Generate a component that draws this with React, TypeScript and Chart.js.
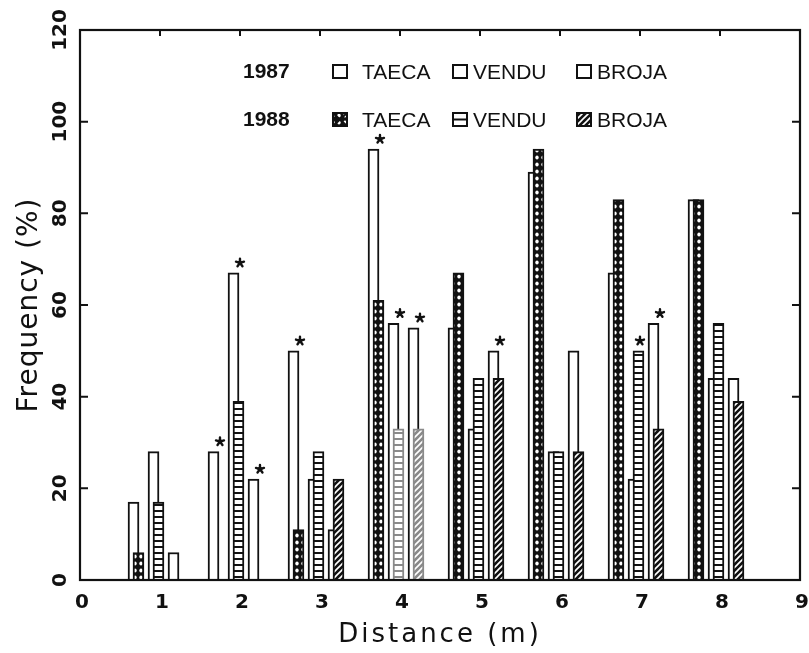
import { useEffect, useRef } from 'react';
import { Chart, registerables } from 'chart.js';

Chart.register(...registerables);

// ---------- data ----------
const distances = [1, 2, 3, 4, 5, 6, 7, 8];
const taeca1987 = [17, 28, 50, 94, 55, 89, 67, 83];
const taeca1988: (number | null)[] = [6, null, 11, 61, 67, 94, 83, 83];
const vendu1987 = [28, 67, 22, 56, 33, 28, 22, 44];
const vendu1988 = [17, 39, 28, 33, 44, 28, 50, 56];
const broja1987 = [6, 22, 11, 55, 50, 50, 56, 44];
const broja1988: (number | null)[] = [null, null, 22, 33, 44, 28, 33, 39];
// significance marks (*) per site pair
const sigTaeca = [false, true, true, true, false, false, false, false];
const sigVendu = [false, true, false, true, false, false, true, false];
const sigBroja = [false, true, false, true, true, false, true, false];
const yTickValues = [0, 20, 40, 60, 80, 100, 120];
const xMin = 0;
const xMax = 9;
const sites = ['TAECA', 'VENDU', 'BROJA'];
const years = ['1987', '1988'];
const xTitle = 'Distance (m)';
const yTitle = 'Frequency (%)';

// ---------- layout / style ----------
const INK = '#111';
const FADED = '#8a8a8a';
const FADED_DISTANCE = 4;
const GROUP_SHIFT = -0.05;
const PAIR_OFFSETS = [-0.25, 0, 0.25];
const YEAR_OFFSET = 0.031;
const BAR_W = 11;

function tile(w: number, h: number, draw: (c: CanvasRenderingContext2D) => void) {
  const cv = document.createElement('canvas');
  cv.width = w;
  cv.height = h;
  const c = cv.getContext('2d')!;
  draw(c);
  return cv;
}

function makePatterns(ctx: CanvasRenderingContext2D, ink: string) {
  const dots = tile(6, 7, (c) => {
    c.fillStyle = ink;
    c.fillRect(0, 0, 6, 7);
    c.fillStyle = '#fff';
    c.beginPath();
    c.ellipse(3, 3.5, 1.7, 2.1, 0, 0, Math.PI * 2);
    c.fill();
  });
  const ladder = tile(6, 6, (c) => {
    c.fillStyle = '#fff';
    c.fillRect(0, 0, 6, 6);
    c.fillStyle = ink;
    c.fillRect(0, 0, 6, 2);
  });
  const diag = tile(6, 6, (c) => {
    c.fillStyle = ink;
    c.fillRect(0, 0, 6, 6);
    c.strokeStyle = '#fff';
    c.lineWidth = 1.6;
    c.beginPath();
    c.moveTo(-1, 7);
    c.lineTo(7, -1);
    c.moveTo(-1, 1);
    c.lineTo(1, -1);
    c.moveTo(5, 7);
    c.lineTo(7, 5);
    c.stroke();
  });
  return {
    dots: ctx.createPattern(dots, 'repeat')!,
    ladder: ctx.createPattern(ladder, 'repeat')!,
    diag: ctx.createPattern(diag, 'repeat')!,
  };
}

function xPos(i: number, pair: number, year: number) {
  return distances[i] + GROUP_SHIFT + PAIR_OFFSETS[pair] + (year === 0 ? -YEAR_OFFSET : YEAR_OFFSET);
}

function points(values: (number | null)[], pair: number, year: number) {
  return values.map((v, i) => ({ x: xPos(i, pair, year), y: v }));
}

function drawStar(ctx: CanvasRenderingContext2D, x: number, y: number) {
  ctx.save();
  ctx.strokeStyle = INK;
  ctx.lineWidth = 2.4;
  ctx.lineCap = 'round';
  ctx.beginPath();
  for (let k = 0; k < 5; k++) {
    const a = -Math.PI / 2 + (k * 2 * Math.PI) / 5;
    ctx.moveTo(x, y);
    ctx.lineTo(x + Math.cos(a) * 4.2, y + Math.sin(a) * 4.2);
  }
  ctx.stroke();
  ctx.fillStyle = INK;
  ctx.beginPath();
  ctx.arc(x, y, 2.4, 0, Math.PI * 2);
  ctx.fill();
  ctx.restore();
}

export default function App() {
  const canvasRef = useRef<HTMLCanvasElement | null>(null);

  useEffect(() => {
    const canvas = canvasRef.current!;
    const ctx = canvas.getContext('2d')!;
    const pBlack = makePatterns(ctx, INK);
    const pGray = makePatterns(ctx, FADED);

    const pick = (kind: 'dots' | 'ladder' | 'diag') => (c: any) =>
      distances[c.dataIndex] === FADED_DISTANCE && kind !== 'dots' ? pGray[kind] : pBlack[kind];
    const pickBorder = (kind: string) => (c: any) =>
      distances[c.dataIndex] === FADED_DISTANCE && kind !== 'dots' ? FADED : INK;

    const white = (label: string, values: (number | null)[], pair: number) => ({
      label,
      data: points(values, pair, 0),
      backgroundColor: '#fff',
      borderColor: INK,
      borderWidth: 2,
      barThickness: BAR_W,
      grouped: false,
      order: 1,
    });
    const patterned = (
      label: string,
      values: (number | null)[],
      pair: number,
      kind: 'dots' | 'ladder' | 'diag'
    ) => ({
      label,
      data: points(values, pair, 1),
      backgroundColor: pick(kind),
      borderColor: pickBorder(kind),
      borderWidth: 2,
      barThickness: BAR_W,
      grouped: false,
      order: 0,
    });

    const sigs = [sigTaeca, sigVendu, sigBroja];
    const pairs87 = [taeca1987, vendu1987, broja1987];
    const pairs88 = [taeca1988, vendu1988, broja1988];

    const decor = {
      id: 'decor',
      afterDatasetsDraw(chart: any) {
        const c: CanvasRenderingContext2D = chart.ctx;
        const a = chart.chartArea;
        const xs = chart.scales.x;
        const ys = chart.scales.y;

        // significance stars
        sigs.forEach((sig, p) => {
          sig.forEach((on, i) => {
            if (!on) return;
            const top = Math.max(pairs87[p][i] ?? 0, pairs88[p][i] ?? 0);
            const px = xs.getPixelForValue(xPos(i, p, 1)) + 1.5;
            const py = ys.getPixelForValue(top) - 10;
            drawStar(c, px, py);
          });
        });

        // frame
        c.save();
        c.strokeStyle = INK;
        c.lineWidth = 2.2;
        c.strokeRect(a.left, a.top, a.right - a.left, a.bottom - a.top);
        c.lineWidth = 2;
        c.beginPath();
        ys.ticks.forEach((t: any) => {
          const py = ys.getPixelForValue(t.value);
          c.moveTo(a.left, py);
          c.lineTo(a.left + 8, py);
          c.moveTo(a.right, py);
          c.lineTo(a.right - 8, py);
        });
        xs.ticks.forEach((t: any) => {
          const px = xs.getPixelForValue(t.value);
          c.moveTo(px, a.top);
          c.lineTo(px, a.top + 6);
        });
        c.stroke();

        // tick labels
        c.fillStyle = INK;
        c.font = 'bold 20px "DejaVu Sans"';
        c.textAlign = 'center';
        c.textBaseline = 'middle';
        ys.ticks.forEach((t: any) => {
          const py = ys.getPixelForValue(t.value);
          c.save();
          c.translate(a.left - 19, py);
          c.rotate(-Math.PI / 2);
          c.fillText(String(t.value), 0, 0);
          c.restore();
        });
        xs.ticks.forEach((t: any) => {
          const px = xs.getPixelForValue(t.value);
          c.fillText(String(t.value), px + 2, a.bottom + 23);
        });

        // axis titles
        c.font = '28px "DejaVu Sans"';
        (c as any).letterSpacing = '1px';
        c.save();
        c.translate(a.left - 50, (a.top + a.bottom) / 2);
        c.rotate(-Math.PI / 2);
        c.fillText(yTitle, 0, 0);
        c.restore();
        c.font = '26px "DejaVu Sans"';
        (c as any).letterSpacing = '3px';
        c.fillText(xTitle, (a.left + a.right) / 2, a.bottom + 55);
        (c as any).letterSpacing = '0px';

        // legend
        const rowsY = [a.top + 42, a.top + 90];
        const boxX = [a.left + 253, a.left + 373, a.left + 497];
        const labelX = [a.left + 282, a.left + 393, a.left + 517];
        rowsY.forEach((ry, r) => {
          c.font = 'bold 21px "Liberation Sans"';
          c.textAlign = 'left';
          c.fillStyle = INK;
          c.fillText(years[r], a.left + 163, ry);
          sites.forEach((s, k) => {
            const bx = boxX[k];
            const by = ry - 7;
            c.lineWidth = 2;
            c.strokeStyle = INK;
            if (r === 1) {
              if (k === 0) {
                c.fillStyle = pBlack.dots;
                c.fillRect(bx, by, 14, 13);
                c.beginPath();
                c.moveTo(bx, by);
                c.lineTo(bx + 14, by + 13);
                c.moveTo(bx + 14, by);
                c.lineTo(bx, by + 13);
                c.stroke();
              } else if (k === 1) {
                c.fillStyle = '#fff';
                c.fillRect(bx, by, 14, 13);
                c.beginPath();
                c.moveTo(bx, by + 6.5);
                c.lineTo(bx + 14, by + 6.5);
                c.stroke();
              } else {
                c.fillStyle = pBlack.diag;
                c.fillRect(bx, by, 14, 13);
              }
            }
            c.strokeRect(bx, by, 14, 13);
            c.fillStyle = INK;
            c.font = '21px "Liberation Sans"';
            c.fillText(s, labelX[k], ry + 1);
          });
        });
        c.restore();
      },
    };

    const chart = new Chart(canvas, {
      type: 'bar',
      data: {
        datasets: [
          white('1987 TAECA', taeca1987, 0),
          patterned('1988 TAECA', taeca1988, 0, 'dots'),
          white('1987 VENDU', vendu1987, 1),
          patterned('1988 VENDU', vendu1988, 1, 'ladder'),
          white('1987 BROJA', broja1987, 2),
          patterned('1988 BROJA', broja1988, 2, 'diag'),
        ] as any,
      },
      options: {
        animation: false,
        responsive: false,
        devicePixelRatio: 1,
        layout: { padding: { top: 30, right: 9, left: 0, bottom: 0 } },
        plugins: { legend: { display: false }, tooltip: { enabled: false } },
        scales: {
          x: {
            type: 'linear',
            min: xMin,
            max: xMax,
            offset: false,
            grid: { display: false, drawTicks: false, offset: false },
            border: { display: false },
            ticks: { display: false, stepSize: 1, autoSkip: false },
            afterFit: (s: any) => {
              s.height = 73;
            },
          },
          y: {
            type: 'linear',
            min: yTickValues[0],
            max: yTickValues[yTickValues.length - 1],
            grid: { display: false, drawTicks: false },
            border: { display: false },
            ticks: { display: false, stepSize: yTickValues[1] - yTickValues[0] },
            afterFit: (s: any) => {
              s.width = 80;
            },
          },
        },
      },
      plugins: [decor],
    } as any);

    return () => chart.destroy();
  }, []);

  return (
    <div style={{ position: 'fixed', left: 0, top: 0, width: 809, height: 653, background: '#fff' }}>
      <canvas ref={canvasRef} width={809} height={653} />
    </div>
  );
}
